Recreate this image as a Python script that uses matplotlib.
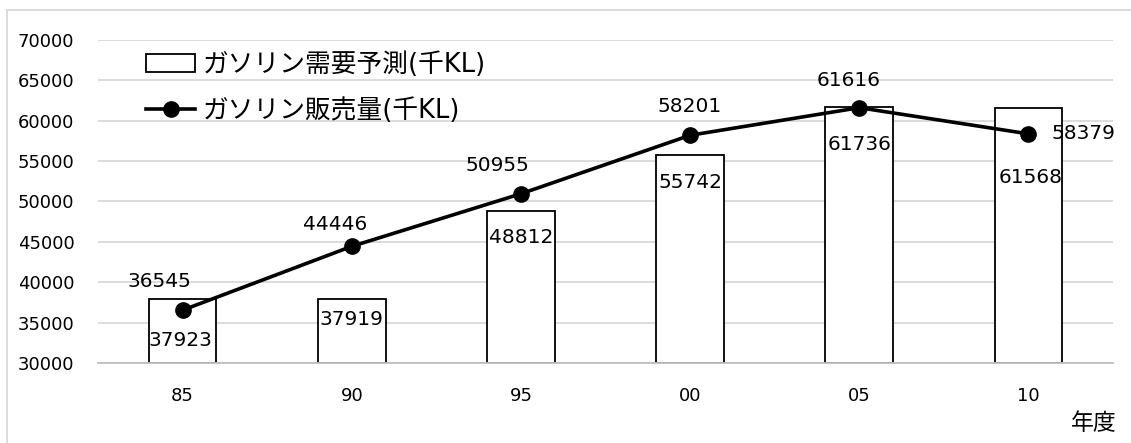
import matplotlib.pyplot as plt
from matplotlib.lines import Line2D
from matplotlib.patches import Patch, Rectangle

# wide Latin digits first, CJK fallback for the Japanese text
plt.rcParams["font.family"] = ["DejaVu Sans", "Noto Sans CJK JP"]

# data
years = ["85", "90", "95", "00", "05", "10"]
demand_forecast = [37923, 37919, 48812, 55742, 61736, 61568]  # 需要予測
sales = [36545, 44446, 50955, 58201, 61616, 58379]  # 販売量

bar_name = "ガソリン需要予測(千KL)"
line_name = "ガソリン販売量(千KL)"

# label offsets in pixels (dx, dy), hand placed like the original
PX = 72 / 100
line_lbl_off = [(-23, 29), (-17, 22), (-23, 28), (0, 29), (-11, 27), (55, 0)]
bar_lbl_off = [(-2, -41), (0, -20), (0, -26), (0, -27), (0, -38), (2, -69)]

fig = plt.figure(figsize=(11.31, 4.43), dpi=100)
ax = fig.add_axes([98 / 1131, 1 - 363 / 443, (1113 - 98) / 1131, (363 - 40) / 443])

# outer chart border
fig.patches.append(Rectangle((7 / 1131, -0.1), 1.2, 1.1 - 10 / 443, transform=fig.transFigure,
                             fill=False, edgecolor="#d9d9d9", linewidth=1.3))

x = range(len(years))
ax.bar(x, [v - 30000 for v in demand_forecast], bottom=30000, width=0.40,
       facecolor="white", edgecolor="black", linewidth=1.3, zorder=2)
ax.plot(x, sales, color="black", linewidth=2.6, marker="o", markersize=11, zorder=3)

for i, v in enumerate(demand_forecast):
    dx, dy = bar_lbl_off[i]
    ax.annotate(str(v), (i, v), xytext=(dx * PX, dy * PX), textcoords="offset points",
                ha="center", va="center", fontsize=14.5, zorder=4)
for i, v in enumerate(sales):
    dx, dy = line_lbl_off[i]
    ax.annotate(str(v), (i, v), xytext=(dx * PX, dy * PX), textcoords="offset points",
                ha="center", va="center", fontsize=14.5, zorder=4)

ax.set_ylim(30000, 70000)
ax.set_yticks(range(30000, 70001, 5000))
ax.set_xlim(-0.5, len(years) - 0.5)
ax.set_xticks(list(x))
ax.set_xticklabels(years)
ax.tick_params(axis="both", length=0, labelsize=13)
ax.tick_params(axis="x", pad=17)
ax.tick_params(axis="y", pad=17)
ax.grid(axis="y", color="#d9d9d9", linewidth=1.3, zorder=0)
ax.set_axisbelow(True)
for s in ["top", "right", "left"]:
    ax.spines[s].set_visible(False)
ax.spines["bottom"].set_color("#bfbfbf")
ax.spines["bottom"].set_linewidth(1.3)

fig.text(1094 / 1131, 1 - 424 / 443, "年度", ha="center", va="center", fontsize=16.5)

handles = [
    Patch(facecolor="white", edgecolor="black", linewidth=1.3, label=bar_name),
    Line2D([0], [0], color="black", linewidth=2.6, marker="o", markersize=11, label=line_name),
]
ax.legend(handles=handles, loc="upper left", bbox_to_anchor=(0.03, 1.02), frameon=False,
          fontsize=18.5, handlelength=1.9, handletextpad=0.3, labelspacing=0.8,
          borderpad=0.2)

fig.savefig("out.png", dpi=100)
